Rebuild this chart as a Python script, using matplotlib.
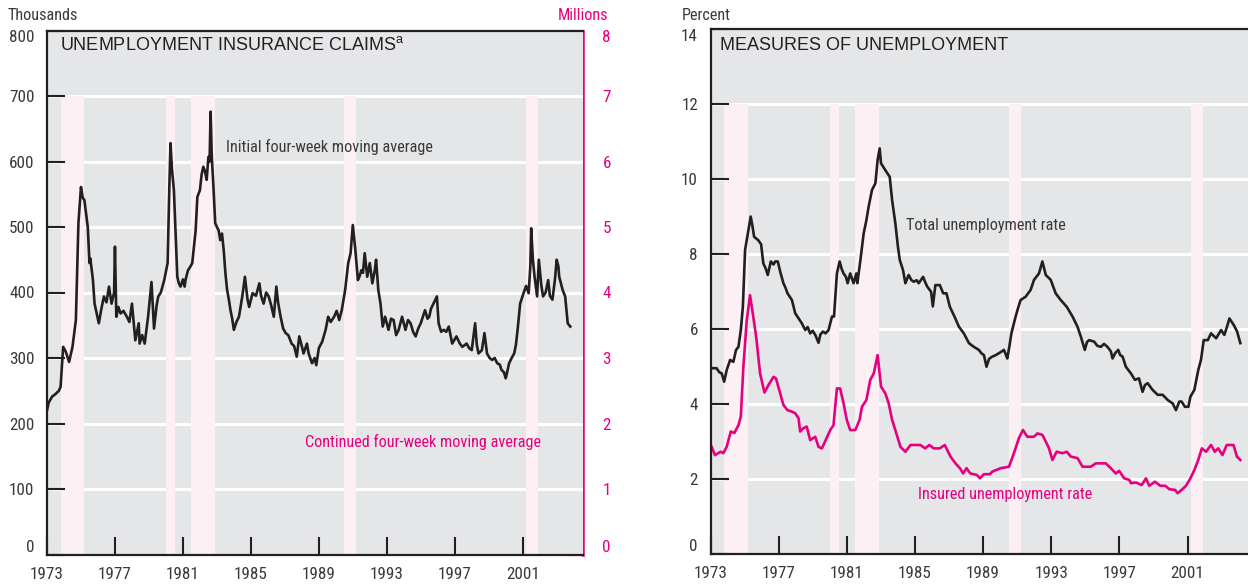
import numpy as np
import matplotlib
matplotlib.use('Agg')
import matplotlib.pyplot as plt
from matplotlib import font_manager

# ---- data ----
initial_years = [1973.0, 1973.1, 1973.3, 1973.5, 1973.7, 1973.8, 1973.95, 1974.1, 1974.3, 1974.5,
                 1974.7, 1974.85, 1975.0, 1975.1, 1975.2, 1975.4, 1975.5, 1975.55, 1975.7, 1975.8,
                 1976.05, 1976.2, 1976.35, 1976.5, 1976.65, 1976.8, 1976.95, 1977.0, 1977.08, 1977.2,
                 1977.33, 1977.5, 1977.7, 1977.85, 1978.0, 1978.2, 1978.3, 1978.4, 1978.45, 1978.6,
                 1978.75, 1978.95, 1979.15, 1979.3, 1979.45, 1979.55, 1979.7, 1979.9, 1980.1, 1980.2,
                 1980.27, 1980.35, 1980.47, 1980.6, 1980.67, 1980.76, 1980.86, 1981.0, 1981.1, 1981.16,
                 1981.3, 1981.45, 1981.55, 1981.75, 1981.85, 1982.0, 1982.1, 1982.2, 1982.3, 1982.4,
                 1982.5, 1982.57, 1982.63, 1982.7, 1982.8, 1982.9, 1983.0, 1983.1, 1983.2, 1983.3,
                 1983.4, 1983.5, 1983.6, 1983.7, 1983.8, 1983.9, 1984.0, 1984.15, 1984.3, 1984.5,
                 1984.65, 1984.8, 1984.9, 1985.1, 1985.3, 1985.5, 1985.6, 1985.75, 1985.9, 1986.05,
                 1986.2, 1986.35, 1986.5, 1986.6, 1986.75, 1986.9, 1987.05, 1987.2, 1987.4, 1987.55,
                 1987.7, 1987.85, 1988.0, 1988.1, 1988.3, 1988.4, 1988.6, 1988.75, 1988.85, 1989.0,
                 1989.2, 1989.4, 1989.55, 1989.7, 1989.9, 1990.05, 1990.2, 1990.35, 1990.55, 1990.73,
                 1990.87, 1991.0, 1991.15, 1991.3, 1991.4, 1991.5, 1991.6, 1991.7, 1991.85, 1992.0,
                 1992.15, 1992.3, 1992.37, 1992.5, 1992.63, 1992.76, 1992.9, 1993.1, 1993.25, 1993.4,
                 1993.55, 1993.7, 1993.9, 1994.1, 1994.25, 1994.4, 1994.55, 1994.7, 1994.85, 1995.0,
                 1995.25, 1995.4, 1995.5, 1995.6, 1995.75, 1995.95, 1996.05, 1996.2, 1996.35, 1996.5,
                 1996.65, 1996.85, 1997.1, 1997.3, 1997.45, 1997.6, 1997.7, 1997.85, 1998.0, 1998.2,
                 1998.3, 1998.4, 1998.6, 1998.75, 1998.9, 1999.05, 1999.2, 1999.35, 1999.5, 1999.65,
                 1999.75, 1999.9, 2000.0, 2000.1, 2000.2, 2000.35, 2000.5, 2000.6, 2000.7, 2000.85,
                 2001.05, 2001.2, 2001.35, 2001.45, 2001.5, 2001.6, 2001.7, 2001.85, 2001.95, 2002.1,
                 2002.2, 2002.35, 2002.5, 2002.6, 2002.75, 2002.9, 2003.0, 2003.1, 2003.15, 2003.35,
                 2003.5, 2003.65, 2003.8]
initial_claims = [220, 232, 241, 245, 250, 256, 317, 310, 294, 317,
                  358, 506, 561, 545, 541, 500, 445, 452, 420, 383,
                  353, 375, 394, 385, 409, 383, 400, 470, 363, 378,
                  368, 372, 363, 355, 383, 327, 340, 353, 322, 335,
                  322, 363, 416, 345, 380, 394, 400, 419, 445, 560,
                  628, 590, 556, 470, 424, 414, 409, 420, 409, 420,
                  434, 440, 445, 495, 546, 556, 580, 592, 585, 572,
                  607, 600, 676, 607, 560, 506, 500, 495, 480, 490,
                  465, 430, 404, 390, 373, 360, 343, 355, 363, 395,
                  424, 390, 378, 399, 395, 414, 395, 383, 400, 394,
                  380, 363, 409, 385, 363, 345, 338, 335, 322, 318,
                  302, 333, 318, 307, 322, 307, 292, 300, 289, 315,
                  325, 343, 363, 355, 363, 372, 358, 373, 404, 445,
                  460, 503, 465, 419, 425, 434, 430, 460, 424, 445,
                  414, 435, 450, 404, 383, 348, 363, 343, 360, 358,
                  335, 343, 363, 343, 358, 353, 340, 333, 345, 353,
                  373, 360, 363, 375, 383, 394, 353, 340, 343, 340,
                  348, 322, 333, 322, 317, 320, 322, 315, 312, 353,
                  320, 307, 312, 338, 307, 300, 297, 300, 292, 290,
                  282, 278, 269, 280, 292, 300, 307, 320, 343, 383,
                  399, 410, 399, 440, 498, 450, 424, 394, 450, 410,
                  394, 400, 419, 395, 389, 420, 450, 440, 424, 404,
                  394, 353, 348]

continued_years = [1973.0, 1973.15, 1973.3, 1973.5, 1973.6, 1973.75, 1973.9, 1974.0, 1974.1, 1974.25,
                   1974.4, 1974.55, 1974.65, 1974.75, 1974.85, 1975.0, 1975.1, 1975.2, 1975.3, 1975.4,
                   1975.5, 1975.6, 1975.7, 1975.8, 1975.9, 1976.0, 1976.1, 1976.25, 1976.35, 1976.5,
                   1976.7, 1976.8, 1976.9, 1977.0, 1977.15, 1977.35, 1977.55, 1977.8, 1978.0, 1978.1,
                   1978.2, 1978.3, 1978.4, 1978.5, 1978.6, 1978.7, 1978.85, 1979.0, 1979.15, 1979.3,
                   1979.45, 1979.55, 1979.75, 1979.9, 1980.0, 1980.1, 1980.25, 1980.35, 1980.5, 1980.6,
                   1980.75, 1980.9, 1981.05, 1981.2, 1981.35, 1981.5, 1981.65, 1981.85, 1982.0, 1982.1,
                   1982.3, 1982.5, 1982.6, 1982.67, 1982.75, 1982.85, 1983.05, 1983.2, 1983.35, 1983.5,
                   1983.65, 1983.8, 1984.0, 1984.2, 1984.4, 1984.55, 1984.7, 1984.9, 1985.1, 1985.35,
                   1985.5, 1985.65, 1985.8, 1985.95, 1986.1, 1986.3, 1986.55, 1986.7, 1986.85, 1987.0,
                   1987.15, 1987.3, 1987.4, 1987.5, 1987.6, 1987.7, 1987.8, 1987.95, 1988.1, 1988.25,
                   1988.4, 1988.55, 1988.65, 1988.8, 1988.9, 1989.05, 1989.2, 1989.35, 1989.55, 1989.7,
                   1989.9, 1990.05, 1990.2, 1990.35, 1990.5, 1990.65, 1990.75, 1990.85, 1990.95, 1991.1,
                   1991.2, 1991.3, 1991.45, 1991.65, 1991.8, 1991.95, 1992.1, 1992.25, 1992.4, 1992.55,
                   1992.7, 1992.8, 1992.9, 1993.1, 1993.3, 1993.5, 1993.7, 1993.9, 1994.05, 1994.2,
                   1994.35, 1994.5, 1994.7, 1994.9, 1995.1, 1995.25, 1995.4, 1995.55, 1995.7, 1995.8,
                   1995.95, 1996.05, 1996.2, 1996.4, 1996.55, 1996.7, 1996.85, 1996.95, 1997.1, 1997.25,
                   1997.4, 1997.5, 1997.65, 1997.75, 1997.9, 1998.0, 1998.15, 1998.25, 1998.35, 1998.4,
                   1998.55, 1998.7, 1998.85, 1999.0, 1999.15, 1999.3, 1999.45, 1999.55, 1999.65, 1999.8,
                   1999.95, 2000.1, 2000.2, 2000.35, 2000.55, 2000.7, 2000.8, 2000.95, 2001.05, 2001.2,
                   2001.3, 2001.45, 2001.55, 2001.7, 2001.85, 2002.05, 2002.2, 2002.35, 2002.5, 2002.6,
                   2002.75, 2002.95, 2003.15, 2003.3, 2003.4, 2003.5, 2003.6, 2003.7, 2003.8]
continued_claims = [1.60, 1.55, 1.57, 1.63, 1.67, 1.70, 1.75, 1.95, 2.05, 2.08,
                    2.08, 2.15, 2.31, 2.60, 3.02, 3.60, 4.04, 4.40, 4.60, 4.30,
                    4.04, 3.90, 3.78, 3.45, 3.22, 2.95, 2.87, 2.92, 2.97, 3.00,
                    3.12, 3.05, 2.92, 2.80, 2.66, 2.62, 2.61, 2.56, 2.46, 2.45,
                    2.35, 2.26, 2.38, 2.41, 2.30, 2.21, 2.30, 2.44, 2.38, 2.26,
                    2.35, 2.46, 2.60, 2.77, 2.90, 3.07, 3.60, 3.89, 3.73, 3.50,
                    3.22, 3.00, 2.92, 2.88, 2.87, 3.00, 3.22, 3.58, 3.65, 3.73,
                    4.09, 4.19, 4.45, 4.67, 4.45, 4.24, 3.78, 3.73, 3.45, 3.12,
                    2.90, 2.71, 2.46, 2.38, 2.36, 2.45, 2.59, 2.62, 2.61, 2.56,
                    2.62, 2.66, 2.58, 2.61, 2.66, 2.62, 2.71, 2.62, 2.51, 2.42,
                    2.36, 2.25, 2.16, 2.08, 2.03, 2.12, 2.21, 2.10, 2.08, 2.06,
                    2.08, 2.02, 2.00, 2.08, 2.13, 2.12, 2.10, 2.18, 2.26, 2.31,
                    2.36, 2.40, 2.46, 2.50, 2.61, 2.80, 3.02, 3.25, 3.43, 3.50,
                    3.40, 3.30, 3.32, 3.35, 3.30, 3.33, 3.33, 3.30, 3.22, 3.05,
                    2.87, 2.72, 2.66, 2.77, 2.80, 2.84, 2.78, 2.79, 2.75, 2.71,
                    2.65, 2.61, 2.55, 2.54, 2.56, 2.61, 2.63, 2.66, 2.64, 2.71,
                    2.65, 2.61, 2.55, 2.51, 2.47, 2.49, 2.40, 2.33, 2.32, 2.28,
                    2.24, 2.23, 2.25, 2.28, 2.20, 2.18, 2.25, 2.36, 2.22, 2.16,
                    2.25, 2.28, 2.25, 2.23, 2.22, 2.21, 2.18, 2.13, 2.10, 2.16,
                    2.05, 2.00, 2.08, 2.16, 2.21, 2.38, 2.51, 2.70, 2.87, 3.00,
                    3.12, 3.40, 3.68, 3.53, 3.62, 3.71, 3.60, 3.53, 3.63, 3.50,
                    3.38, 3.58, 3.73, 3.62, 3.66, 3.60, 3.43, 3.25, 3.12]

total_years = [1973.07, 1973.36, 1973.5, 1973.66, 1973.8, 1973.95, 1974.15, 1974.34, 1974.5, 1974.64,
               1974.78, 1974.9, 1975.03, 1975.16, 1975.36, 1975.46, 1975.56, 1975.8, 1975.97, 1976.1,
               1976.25, 1976.36, 1976.54, 1976.7, 1976.8, 1976.95, 1977.09, 1977.28, 1977.4, 1977.52,
               1977.78, 1977.97, 1978.17, 1978.36, 1978.56, 1978.7, 1978.85, 1979.0, 1979.15, 1979.34,
               1979.45, 1979.6, 1979.75, 1979.93, 1980.13, 1980.25, 1980.42, 1980.58, 1980.7, 1980.81,
               1980.95, 1981.05, 1981.2, 1981.3, 1981.4, 1981.56, 1981.62, 1981.8, 1981.99, 1982.15,
               1982.28, 1982.48, 1982.68, 1982.81, 1982.93, 1983.01, 1983.26, 1983.52, 1983.66, 1983.85,
               1984.0, 1984.11, 1984.3, 1984.44, 1984.63, 1984.8, 1984.93, 1985.1, 1985.22, 1985.48,
               1985.6, 1985.72, 1985.95, 1986.05, 1986.2, 1986.46, 1986.66, 1986.85, 1987.05, 1987.32,
               1987.58, 1987.87, 1988.17, 1988.46, 1988.75, 1988.9, 1989.05, 1989.2, 1989.35, 1989.54,
               1989.75, 1989.93, 1990.1, 1990.22, 1990.35, 1990.42, 1990.55, 1990.66, 1990.91, 1991.05,
               1991.2, 1991.5, 1991.79, 1991.99, 1992.28, 1992.48, 1992.68, 1992.97, 1993.26, 1993.56,
               1993.91, 1994.25, 1994.54, 1994.74, 1994.97, 1995.1, 1995.22, 1995.52, 1995.7, 1995.91,
               1996.1, 1996.3, 1996.5, 1996.6, 1996.75, 1996.93, 1997.05, 1997.19, 1997.38, 1997.68,
               1997.91, 1998.15, 1998.36, 1998.5, 1998.66, 1998.95, 1999.25, 1999.54, 1999.84, 2000.13,
               2000.32, 2000.52, 2000.65, 2000.85, 2001.05, 2001.17, 2001.4, 2001.63, 2001.79, 2001.95,
               2002.19, 2002.38, 2002.68, 2002.97, 2003.16, 2003.32, 2003.46, 2003.72, 2003.91, 2004.1]
total_rate = [4.95, 4.95, 4.85, 4.81, 4.59, 4.90, 5.17, 5.12, 5.44, 5.52,
              5.97, 6.59, 8.11, 8.46, 9.00, 8.75, 8.46, 8.37, 8.26, 7.75,
              7.60, 7.44, 7.80, 7.72, 7.80, 7.80, 7.53, 7.22, 7.10, 6.95,
              6.77, 6.42, 6.28, 6.15, 5.97, 6.05, 5.88, 5.95, 5.84, 5.63,
              5.85, 5.93, 5.88, 5.97, 6.33, 6.33, 7.48, 7.80, 7.60, 7.48,
              7.39, 7.22, 7.48, 7.35, 7.22, 7.48, 7.22, 7.84, 8.55, 8.90,
              9.26, 9.71, 9.89, 10.51, 10.82, 10.42, 10.24, 10.06, 9.44, 8.82,
              8.20, 7.84, 7.57, 7.22, 7.44, 7.30, 7.26, 7.30, 7.22, 7.39,
              7.25, 7.13, 6.99, 6.60, 7.17, 7.17, 6.95, 6.95, 6.59, 6.33,
              6.06, 5.88, 5.62, 5.52, 5.44, 5.35, 5.30, 4.99, 5.20, 5.26,
              5.30, 5.35, 5.40, 5.44, 5.30, 5.21, 5.55, 5.88, 6.33, 6.55,
              6.77, 6.86, 7.04, 7.31, 7.48, 7.80, 7.44, 7.31, 6.95, 6.77,
              6.59, 6.33, 6.06, 5.79, 5.44, 5.65, 5.70, 5.66, 5.55, 5.52,
              5.60, 5.52, 5.40, 5.21, 5.35, 5.44, 5.30, 5.26, 4.99, 4.81,
              4.64, 4.68, 4.32, 4.50, 4.55, 4.37, 4.24, 4.24, 4.10, 4.01,
              3.83, 4.06, 4.06, 3.92, 3.92, 4.19, 4.37, 4.90, 5.17, 5.70,
              5.70, 5.88, 5.75, 5.97, 5.84, 6.06, 6.28, 6.10, 5.93, 5.62]

insured_years = [1973.07, 1973.26, 1973.45, 1973.6, 1973.75, 1973.95, 1974.19, 1974.4, 1974.64, 1974.78,
                 1974.93, 1975.13, 1975.32, 1975.48, 1975.68, 1975.91, 1976.17, 1976.4, 1976.7, 1976.84,
                 1977.09, 1977.28, 1977.52, 1977.78, 1977.97, 1978.17, 1978.26, 1978.45, 1978.65, 1978.85,
                 1979.15, 1979.34, 1979.54, 1979.73, 1980.03, 1980.22, 1980.42, 1980.61, 1980.81, 1981.0,
                 1981.2, 1981.5, 1981.75, 1981.89, 1982.15, 1982.38, 1982.58, 1982.81, 1983.01, 1983.26,
                 1983.46, 1983.66, 1983.91, 1984.15, 1984.44, 1984.74, 1985.32, 1985.6, 1985.85, 1986.1,
                 1986.46, 1986.75, 1987.09, 1987.38, 1987.64, 1987.83, 1988.03, 1988.25, 1988.64, 1988.82,
                 1989.05, 1989.4, 1989.54, 1990.03, 1990.52, 1990.81, 1991.1, 1991.34, 1991.6, 1991.99,
                 1992.19, 1992.48, 1992.68, 1992.87, 1993.07, 1993.32, 1993.66, 1993.91, 1994.15, 1994.54,
                 1994.84, 1995.32, 1995.62, 1996.2, 1996.5, 1996.79, 1996.99, 1997.28, 1997.58, 1997.68,
                 1997.97, 1998.31, 1998.56, 1998.75, 1999.09, 1999.4, 1999.7, 1999.93, 2000.27, 2000.42,
                 2000.65, 2000.91, 2001.17, 2001.4, 2001.63, 2001.84, 2002.09, 2002.38, 2002.6, 2002.8,
                 2003.05, 2003.3, 2003.7, 2003.9, 2004.1]
insured_rate = [2.85, 2.63, 2.68, 2.72, 2.68, 2.85, 3.26, 3.22, 3.43, 3.66,
                4.99, 6.24, 6.90, 6.42, 5.79, 4.81, 4.30, 4.50, 4.72, 4.68,
                4.28, 3.97, 3.83, 3.79, 3.75, 3.61, 3.26, 3.35, 3.39, 3.03,
                3.12, 2.85, 2.81, 3.00, 3.30, 3.43, 4.41, 4.41, 4.01, 3.57,
                3.30, 3.30, 3.57, 3.92, 4.10, 4.64, 4.81, 5.30, 4.46, 4.28,
                4.01, 3.57, 3.21, 2.85, 2.72, 2.90, 2.90, 2.81, 2.90, 2.81,
                2.81, 2.90, 2.59, 2.41, 2.28, 2.14, 2.28, 2.14, 2.10, 2.01,
                2.12, 2.12, 2.19, 2.28, 2.32, 2.68, 3.08, 3.30, 3.12, 3.12,
                3.21, 3.17, 2.99, 2.81, 2.50, 2.72, 2.68, 2.72, 2.59, 2.55,
                2.32, 2.32, 2.41, 2.41, 2.28, 2.14, 2.21, 2.01, 1.97, 1.88,
                1.90, 1.83, 2.01, 1.81, 1.92, 1.81, 1.81, 1.72, 1.70, 1.61,
                1.70, 1.81, 2.01, 2.23, 2.50, 2.81, 2.72, 2.90, 2.72, 2.81,
                2.63, 2.90, 2.90, 2.59, 2.50]

recession_start = [1973.8, 1980.0, 1981.5, 1990.5, 2001.2]
recession_end = [1975.2, 1980.55, 1982.9, 1991.2, 2001.9]
year_ticks = [1973, 1977, 1981, 1985, 1989, 1993, 1997, 2001]
claims_ticks = [0, 100, 200, 300, 400, 500, 600, 700, 800]
millions_ticks = [0, 1, 2, 3, 4, 5, 6, 7, 8]
percent_ticks = [0, 2, 4, 6, 8, 10, 12, 14]

# ---- fonts: look for a narrow/condensed sans, fall back to DejaVu ----
installed = font_manager.fontManager.ttflist
names = {f.name for f in installed}
narrow = None
for cand in ['Liberation Sans Narrow', 'DejaVu Sans Condensed', 'Roboto Condensed',
             'Open Sans Condensed', 'Noto Sans Condensed', 'Arial Narrow']:
    if cand in names:
        narrow = cand
        break
if narrow is None:
    conds = [f for f in installed
             if (f.stretch in ('condensed', 'semi-condensed', 'extra-condensed')
                 or 'Condensed' in f.name or 'Narrow' in f.name)
             and f.style == 'normal' and 'Mono' not in f.name and 'Serif' not in f.name]
    if conds:
        narrow = conds[0].name
        plt.rcParams['font.stretch'] = conds[0].stretch
FS = 11.7 if narrow else 10.0
TFS = 12.3 if narrow else 10.5
plt.rcParams['font.family'] = [narrow, 'DejaVu Sans'] if narrow else ['DejaVu Sans']
plt.rcParams['mathtext.fontset'] = 'custom'
plt.rcParams['mathtext.rm'] = 'Liberation Sans'

# ---- style ----
BLACK = '#231f20'
TEXT = '#3a3a3a'
MAGENTA = '#e6007e'
GRAY = '#e5e6e8'
PINK = '#fdf0f4'
TICKLEN = 13
LW = 1.9
XMIN, XMAX = 1973, 2004.55

fig = plt.figure(figsize=(12.48, 5.86), dpi=100)
ax1 = fig.add_axes([47 / 1248, 31.5 / 586, 536 / 1248, 524 / 586])
ax2 = fig.add_axes([710.5 / 1248, 32.4 / 586, 537.5 / 1248, 524.3 / 586])


def base_style(ax, ymax, yticks, grid_top):
    ax.set_facecolor(GRAY)
    ax.set_xlim(XMIN, XMAX)
    ax.set_ylim(0, ymax)
    for y in yticks[1:-1]:
        ax.axhline(y, color='white', lw=2.2, zorder=0.8)
    for s, e in zip(recession_start, recession_end):
        ax.axvspan(s, e, ymin=0, ymax=grid_top / ymax, color=PINK, lw=0, zorder=1)
    for side in ['left', 'top', 'bottom']:
        ax.spines[side].set_color(BLACK)
        ax.spines[side].set_linewidth(1.6)
    ax.spines['right'].set_visible(False)
    ax.set_xticks(year_ticks)
    ax.set_xticklabels([str(y) for y in year_ticks])
    ax.set_yticks(yticks)
    ax.set_yticklabels([str(y) for y in yticks])
    ax.tick_params(axis='both', direction='in', length=TICKLEN, width=1.5, color=BLACK,
                   labelsize=TFS, labelcolor=TEXT)
    ax.tick_params(axis='x', pad=9)
    ax.tick_params(axis='y', pad=9)
    labels = ax.get_yticklabels()
    labels[0].set_va('bottom')
    labels[-1].set_va('top')


# ---- left panel ----
base_style(ax1, 800, claims_ticks, 700)
ax1.plot(initial_years, initial_claims, color=BLACK, lw=LW, zorder=3)
ax1t = ax1.twinx()
ax1t.set_ylim(0, 8)
ax1t.set_xlim(XMIN, XMAX)
ax1t.plot(continued_years, continued_claims, color=MAGENTA, lw=LW, zorder=2)
for side in ['left', 'top', 'bottom']:
    ax1t.spines[side].set_visible(False)
ax1t.spines['right'].set_color(MAGENTA)
ax1t.spines['right'].set_linewidth(1.8)
ax1t.set_yticks(millions_ticks)
ax1t.set_yticklabels([str(v) for v in millions_ticks])
ax1t.tick_params(axis='y', direction='in', length=TICKLEN, width=1.5, color=MAGENTA,
                 labelsize=TFS, labelcolor=MAGENTA, pad=14)
tl = ax1t.get_yticklabels()
tl[0].set_va('bottom')
tl[-1].set_va('top')
ax1.set_zorder(ax1t.get_zorder() + 1)
ax1.patch.set_visible(True)
ax1t.patch.set_visible(False)

ax1.text(1973.75, 778, r'UNEMPLOYMENT INSURANCE CLAIMS$^{\mathrm{a}}$', family='Liberation Sans',
         fontsize=13, color=BLACK, va='center', ha='left')
ax1.text(1983.55, 622, 'Initial four-week moving average', fontsize=FS, color=TEXT,
         va='center', ha='left', zorder=5)
ax1.text(1988.2, 172, 'Continued four-week moving average', fontsize=FS, color=MAGENTA,
         va='center', ha='left', zorder=5)
fig.text(8 / 1248, 1 - 15 / 586, 'Thousands', fontsize=FS, color=TEXT, va='center', ha='left')
fig.text(608 / 1248, 1 - 15 / 586, 'Millions', fontsize=FS, color=MAGENTA, va='center', ha='right')

# ---- right panel ----
base_style(ax2, 14, percent_ticks, 12)
ax2.plot(total_years, total_rate, color=BLACK, lw=LW, zorder=3)
ax2.plot(insured_years, insured_rate, color=MAGENTA, lw=LW, zorder=2)
ax2.text(1973.55, 13.58, 'MEASURES OF UNEMPLOYMENT', family='Liberation Sans',
         fontsize=13, color=BLACK, va='center', ha='left')
ax2.text(1984.45, 8.75, 'Total unemployment rate', fontsize=FS, color=TEXT,
         va='center', ha='left', zorder=5)
ax2.text(1985.2, 1.59, 'Insured unemployment rate', fontsize=FS, color=MAGENTA,
         va='center', ha='left', zorder=5)
fig.text(682 / 1248, 1 - 15 / 586, 'Percent', fontsize=FS, color=TEXT, va='center', ha='left')

fig.savefig('out.png', dpi=100)
